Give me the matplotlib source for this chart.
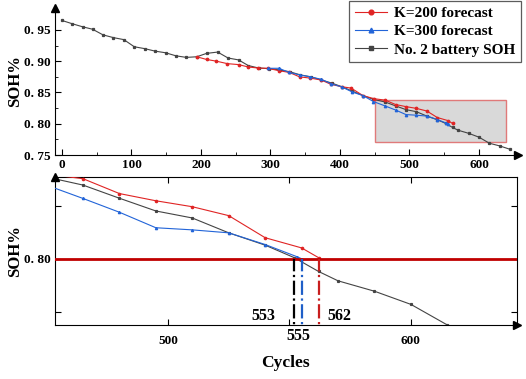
import matplotlib
matplotlib.use("Agg")
import matplotlib.pyplot as plt
from matplotlib.patches import Rectangle

# measured battery SOH
cycles_soh = [0, 15, 30, 44, 59, 74, 89, 104, 119, 134, 149, 164, 179, 194, 208, 224,
              239, 254, 268, 283, 298, 313, 328, 343, 358, 373, 388, 403, 418, 433, 448,
              465, 480, 495, 510, 525, 540, 552, 562, 570, 585, 600, 615, 630, 645]
soh = [0.965, 0.9597, 0.9548, 0.951, 0.942, 0.9376, 0.9344, 0.923, 0.920, 0.916, 0.9134,
       0.9085, 0.906, 0.907, 0.9124, 0.9145, 0.905, 0.902, 0.893, 0.889, 0.888, 0.886,
       0.883, 0.878, 0.875, 0.870, 0.865, 0.859, 0.852, 0.845, 0.839, 0.8347, 0.8285,
       0.8225, 0.8192, 0.8122, 0.8064, 0.8005, 0.794, 0.7896, 0.7847, 0.7785, 0.7688,
       0.7645, 0.759]

# K=200 forecast
cycles_k200 = [194, 208, 222, 238, 254, 268, 282, 296, 312, 327, 342, 357, 373, 387, 403,
               416, 433, 449, 465, 480, 495, 510, 525, 540, 555, 562]
soh_k200 = [0.907, 0.9027, 0.900, 0.896, 0.8945, 0.8907, 0.889, 0.8886, 0.8848, 0.882,
            0.8748, 0.873, 0.8698, 0.863, 0.859, 0.857, 0.845, 0.840, 0.8377, 0.8307,
            0.8273, 0.8245, 0.8203, 0.8099, 0.8051, 0.8005]

# K=300 forecast
cycles_k300 = [297, 312, 327, 342, 357, 373, 387, 403, 418, 433, 448, 465, 480, 495, 510,
               525, 540, 553, 555]
soh_k300 = [0.8886, 0.8886, 0.8819, 0.878, 0.875, 0.871, 0.864, 0.8586, 0.8505, 0.845,
            0.8355, 0.8284, 0.8219, 0.8146, 0.8136, 0.8122, 0.8067, 0.801, 0.800]

threshold = 0.80
eol_cycles = [552, 555, 562]
eol_labels = ["553", "555", "562"]
eol_colors = ["black", "#1f5fc8", "#c81e1e"]

zoom_x = (450, 639)
zoom_y = (0.771, 0.838)

RED = "#e02424"
BLUE = "#2264d8"
GRAY = "#444444"

plt.rcParams["font.family"] = ["Liberation Serif", "DejaVu Serif"]
plt.rcParams["font.weight"] = "bold"
plt.rcParams["xtick.direction"] = "in"
plt.rcParams["ytick.direction"] = "in"

fig = plt.figure(figsize=(5.26, 3.79), dpi=100)
ax1 = fig.add_axes([0.1046, 0.591, 0.880, 0.388])
ax2 = fig.add_axes([0.1046, 0.1425, 0.878, 0.3905])


def draw_series(ax, ms):
    ax.plot(cycles_k200, soh_k200, color=RED, lw=0.8, marker="o", ms=ms, label="K=200 forecast", zorder=3)
    ax.plot(cycles_k300, soh_k300, color=BLUE, lw=0.8, marker="^", ms=ms, label="K=300 forecast", zorder=3)
    ax.plot(cycles_soh, soh, color=GRAY, lw=0.8, marker="s", ms=ms * 0.8, label="No. 2 battery SOH", zorder=2)


# top panel
draw_series(ax1, 1.7)
ax1.add_patch(Rectangle((zoom_x[0], zoom_y[0]), zoom_x[1] - zoom_x[0], zoom_y[1] - zoom_y[0],
                        facecolor="#d9d9d9", edgecolor="#e07a7a", lw=1.0, zorder=1))
ax1.set_xlim(-10, 656)
ax1.set_ylim(0.75, 0.985)
ax1.spines["top"].set_visible(False)
ax1.spines["right"].set_visible(False)
ax1.set_xticks([0, 100, 200, 300, 400, 500, 600])
ax1.set_xticks([50, 150, 250, 350, 450, 550], minor=True)
ax1.set_yticks([0.75, 0.80, 0.85, 0.90, 0.95])
ax1.set_yticklabels(["0. 75", "0. 80", "0. 85", "0. 90", "0. 95"])
ax1.set_yticks([0.775, 0.825, 0.875, 0.925], minor=True)
ax1.tick_params(labelsize=9.5, length=4, pad=3)
ax1.tick_params(which="minor", length=2.5)
ax1.set_ylabel("SOH%", fontsize=12, fontweight="bold", labelpad=1)
ax1.plot(0, 1, "^k", ms=6, transform=ax1.transAxes, clip_on=False)
ax1.plot(1, 0, ">k", ms=6, transform=ax1.transAxes, clip_on=False)

leg = ax1.legend(loc="upper right", bbox_to_anchor=(521 / 526, 1 - 1 / 379),
                 bbox_transform=fig.transFigure, fontsize=11, frameon=True,
                 fancybox=False, handlelength=2.1, borderpad=0.35, labelspacing=0.3,
                 handletextpad=0.5, borderaxespad=0, markerscale=2.0)
leg.get_frame().set_edgecolor("#333333")
leg.get_frame().set_linewidth(0.9)

# bottom panel (zoomed)
draw_series(ax2, 1.6)
ax2.axhline(threshold, color="#c00000", lw=2.0, zorder=4)
for x, c in zip(eol_cycles, eol_colors):
    ax2.plot([x, x], [zoom_y[0] - 0.01, threshold], color=c, lw=1.6, ls="-.", zorder=4)
ax2.set_xlim(453.5, 643.6)
ax2.set_ylim(0.7688, 0.8385)
ax2.set_xticks([500, 550, 600])
ax2.set_xticklabels(["500", "", "600"])
ax2.set_yticks([0.775, 0.80, 0.825])
ax2.set_yticklabels(["", "0. 80", ""])
ax2.tick_params(labelsize=9.5, length=4, pad=7, top=True, right=True)
ax2.tick_params(axis="y", pad=3)
ax2.set_ylabel("SOH%", fontsize=12, fontweight="bold", labelpad=1)
ax2.set_xlabel("Cycles", fontsize=12.5, fontweight="bold", labelpad=6)
ax2.plot(0, 1, "^k", ms=6, transform=ax2.transAxes, clip_on=False)
ax2.plot(1, 0, ">k", ms=6, transform=ax2.transAxes, clip_on=False)

ax2.text(544, 0.7693, eol_labels[0], ha="right", va="bottom", fontsize=11.5)
ax2.text(553.5, 0.7672, eol_labels[1], ha="center", va="top", fontsize=11.5)
ax2.text(565.5, 0.7693, eol_labels[2], ha="left", va="bottom", fontsize=11.5)

fig.savefig("out.png", dpi=100)
